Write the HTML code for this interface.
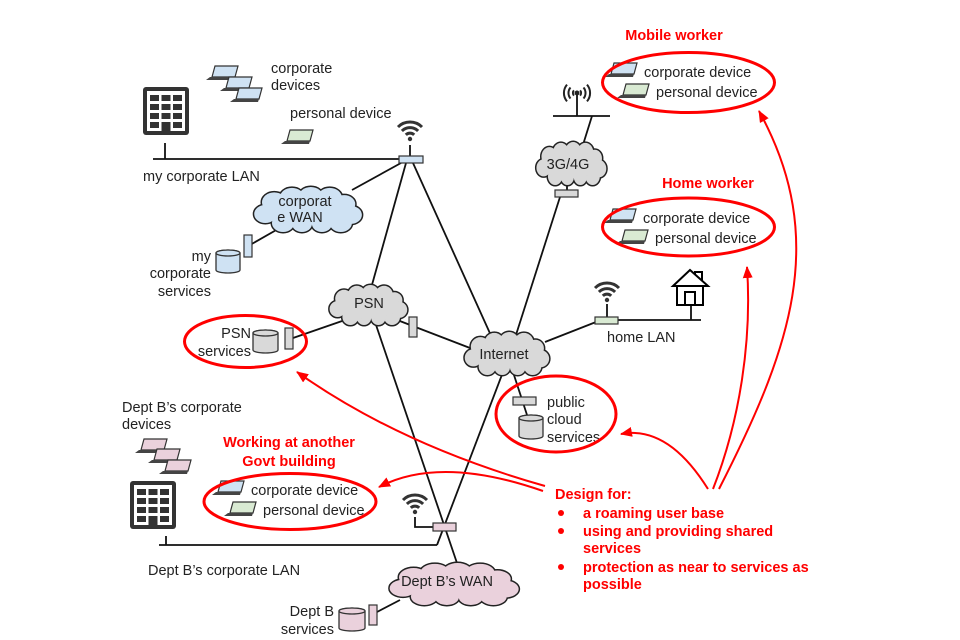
<!DOCTYPE html>
<html><head><meta charset="utf-8"><style>
html,body{margin:0;padding:0;background:#fff;}
svg{display:block;}
text{font-family:"Liberation Sans",Arial,sans-serif;font-size:14.5px;fill:#222;}
.r{fill:#ff0000;font-weight:bold;}
</style></head><body>
<svg width="960" height="640" viewBox="0 0 960 640" xmlns="http://www.w3.org/2000/svg">
<defs>
<g id="cb">
<circle cx="12" cy="30" r="10" vector-effect="non-scaling-stroke"/>
<circle cx="20" cy="17" r="11" vector-effect="non-scaling-stroke"/>
<circle cx="36" cy="12" r="11" vector-effect="non-scaling-stroke"/>
<circle cx="53" cy="11" r="11" vector-effect="non-scaling-stroke"/>
<circle cx="70" cy="12" r="11" vector-effect="non-scaling-stroke"/>
<circle cx="83" cy="19" r="10" vector-effect="non-scaling-stroke"/>
<circle cx="89" cy="31" r="10" vector-effect="non-scaling-stroke"/>
<circle cx="80" cy="40" r="10" vector-effect="non-scaling-stroke"/>
<circle cx="63" cy="41" r="9" vector-effect="non-scaling-stroke"/>
<circle cx="45" cy="41" r="9" vector-effect="non-scaling-stroke"/>
<circle cx="28" cy="40" r="10" vector-effect="non-scaling-stroke"/>
<ellipse cx="50" cy="26" rx="38" ry="16" vector-effect="non-scaling-stroke"/>
</g>
<g id="wifi" fill="none" stroke="#333" stroke-width="3">
<circle cx="0" cy="0" r="2.2" fill="#333" stroke="none"/>
<path d="M-4.2,-4.2 A6,6 0 0 1 4.2,-4.2"/>
<path d="M-8.1,-8.1 A11.5,11.5 0 0 1 8.1,-8.1"/>
<path d="M-12,-12 A17,17 0 0 1 12,-12"/>
</g>
<g id="lapB">
<polygon points="9,1 32,1 29,12 6,12" fill="#cfe2f3" stroke="#333" stroke-width="1.2"/>
<polygon points="4,12 29,12 28,15 0,15" fill="#444"/>
</g>
<g id="lapG">
<polygon points="9,1 32,1 29,12 6,12" fill="#d9ead3" stroke="#333" stroke-width="1.2"/>
<polygon points="4,12 29,12 28,15 0,15" fill="#444"/>
</g>
<g id="lapP">
<polygon points="9,1 32,1 29,12 6,12" fill="#ead1dc" stroke="#333" stroke-width="1.2"/>
<polygon points="4,12 29,12 28,15 0,15" fill="#444"/>
</g>
<g id="bldg">
<rect x="0" y="0" width="46" height="48" rx="3" fill="#333"/>
<rect x="4" y="4" width="38" height="40" fill="#fff"/>
<g fill="#333">
<rect x="7" y="8" width="9" height="6"/><rect x="18.5" y="8" width="9" height="6"/><rect x="30" y="8" width="9" height="6"/>
<rect x="7" y="17" width="9" height="6"/><rect x="18.5" y="17" width="9" height="6"/><rect x="30" y="17" width="9" height="6"/>
<rect x="7" y="26" width="9" height="6"/><rect x="18.5" y="26" width="9" height="6"/><rect x="30" y="26" width="9" height="6"/>
<rect x="7" y="35" width="9" height="6"/><rect x="18.5" y="35" width="9" height="13"/><rect x="30" y="35" width="9" height="6"/>
</g>
</g>
<marker id="ah" viewBox="0 0 12 10" refX="11" refY="5" markerWidth="12" markerHeight="10" markerUnits="userSpaceOnUse" orient="auto">
<path d="M0,0 L12,5 L0,10 z" fill="#ff0000"/>
</marker>
</defs>

<!-- connectors -->
<g stroke="#111" stroke-width="1.8" fill="none">
<path d="M153,159 H405"/>
<path d="M165,143 V159"/>
<path d="M410,145 V156"/>
<path d="M401,163 L352,190"/>
<path d="M406,163 L370,292"/>
<path d="M413,163 L493,340"/>
<path d="M278,229 L250,245"/>
<path d="M553,116 H610"/>
<path d="M577,93 V116"/>
<path d="M592,116 L582,148"/>
<path d="M567,182 V190"/>
<path d="M560,197 L515,338"/>
<path d="M345,320 L293,338"/>
<path d="M392,318 L470,348"/>
<path d="M545,342 L596,322"/>
<path d="M618,320 H701"/>
<path d="M691,305 V320"/>
<path d="M607,304 V317"/>
<path d="M513,372 L528,418"/>
<path d="M375,322 L458,566"/>
<path d="M503,372 L437,545"/>
<path d="M159,545 H437"/>
<path d="M166,536 V545"/>
<path d="M415,517 V527 H433"/>
<path d="M400,600 L377,612"/>
</g>

<!-- clouds -->
<g transform="translate(252,187) scale(1.11,0.9)"><use href="#cb" fill="none" stroke="#222" stroke-width="3"/><use href="#cb" fill="#cfe2f3"/></g>
<g transform="translate(328,285) scale(0.8,0.8)"><use href="#cb" fill="none" stroke="#222" stroke-width="3"/><use href="#cb" fill="#d9d9d9"/></g>
<g transform="translate(463,332) scale(0.87,0.86)"><use href="#cb" fill="none" stroke="#222" stroke-width="3"/><use href="#cb" fill="#d9d9d9"/></g>
<g transform="translate(535,142) scale(0.72,0.86)"><use href="#cb" fill="none" stroke="#222" stroke-width="3"/><use href="#cb" fill="#d9d9d9"/></g>
<g transform="translate(387,563) scale(1.33,0.84)"><use href="#cb" fill="none" stroke="#222" stroke-width="3"/><use href="#cb" fill="#ead1dc"/></g>

<text x="305" y="206" text-anchor="middle">corporat</text>
<text x="300" y="222" text-anchor="middle">e WAN</text>
<text x="369" y="308" text-anchor="middle">PSN</text>
<text x="504" y="359" text-anchor="middle">Internet</text>
<text x="568" y="169" text-anchor="middle">3G/4G</text>
<text x="447" y="586" text-anchor="middle">Dept B’s WAN</text>

<!-- boxes -->
<g stroke="#333" stroke-width="1.2">
<rect x="399" y="156" width="24" height="7" fill="#cfe2f3"/>
<rect x="555" y="190" width="23" height="7" fill="#d9d9d9"/>
<rect x="595" y="317" width="23" height="7" fill="#d9ead3"/>
<rect x="513" y="397" width="23" height="8" fill="#d9d9d9"/>
<rect x="409" y="317" width="8" height="20" fill="#d9d9d9"/>
<rect x="285" y="328" width="8" height="21" fill="#d9d9d9"/>
<rect x="244" y="235" width="8" height="22" fill="#cfe2f3"/>
<rect x="433" y="523" width="23" height="8" fill="#ead1dc"/>
<rect x="369" y="605" width="8" height="20" fill="#ead1dc"/>
</g>

<!-- cylinders -->
<g stroke="#333" stroke-width="1.3">
<path d="M216,253 v17 a12,3 0 0 0 24,0 v-17 a12,3 0 0 0 -24,0 z" fill="#cfe2f3"/>
<ellipse cx="228" cy="253" rx="12" ry="3" fill="#cfe2f3"/>
<path d="M253,333 v17 a12.5,3 0 0 0 25,0 v-17 a12.5,3 0 0 0 -25,0 z" fill="#d9d9d9"/>
<ellipse cx="265.5" cy="333" rx="12.5" ry="3" fill="#d9d9d9"/>
<path d="M519,418 v18 a12,3 0 0 0 24,0 v-18 a12,3 0 0 0 -24,0 z" fill="#d9d9d9"/>
<ellipse cx="531" cy="418" rx="12" ry="3" fill="#d9d9d9"/>
<path d="M339,611 v17 a13,3 0 0 0 26,0 v-17 a13,3 0 0 0 -26,0 z" fill="#ead1dc"/>
<ellipse cx="352" cy="611" rx="13" ry="3" fill="#ead1dc"/>
</g>

<!-- wifi / antenna -->
<use href="#wifi" x="410" y="139"/>
<use href="#wifi" x="607" y="300"/>
<use href="#wifi" x="415" y="512"/>
<g fill="none" stroke="#222" stroke-width="2">
<circle cx="577" cy="93" r="1.5" fill="#222"/>
<path d="M580.1,90.4 A4,4 0 0 1 580.1,95.6"/>
<path d="M573.9,90.4 A4,4 0 0 0 573.9,95.6"/>
<path d="M583.5,87.5 A8.5,8.5 0 0 1 583.5,98.5"/>
<path d="M570.5,87.5 A8.5,8.5 0 0 0 570.5,98.5"/>
<path d="M587,84.6 A13,13 0 0 1 587,101.4"/>
<path d="M567,84.6 A13,13 0 0 0 567,101.4"/>
</g>

<!-- house -->
<g fill="#fff" stroke="#000" stroke-width="2">
<path d="M695,278 V272 H702 V283"/>
<path d="M673,286 L690,270 L708,286 Z"/>
<rect x="677" y="286" width="26" height="19"/>
<rect x="685" y="292" width="10" height="13"/>
</g>

<!-- buildings -->
<use href="#bldg" x="143" y="87"/>
<use href="#bldg" x="130" y="481"/>

<!-- laptops -->
<use href="#lapB" x="206" y="65"/>
<use href="#lapB" x="220" y="76"/>
<use href="#lapB" x="230" y="87"/>
<use href="#lapG" x="281" y="129"/>
<use href="#lapP" x="135" y="438"/>
<use href="#lapP" x="148" y="448"/>
<use href="#lapP" x="159" y="459"/>
<use href="#lapB" x="605" y="62"/>
<use href="#lapG" x="617" y="83"/>
<use href="#lapB" x="604" y="208"/>
<use href="#lapG" x="616" y="229"/>
<use href="#lapB" x="212" y="480"/>
<use href="#lapG" x="224" y="501"/>

<!-- black labels -->
<text x="271" y="73">corporate</text>
<text x="271" y="90">devices</text>
<text x="290" y="118">personal device</text>
<text x="143" y="181">my corporate LAN</text>
<text x="211" y="261" text-anchor="end">my</text>
<text x="211" y="278" text-anchor="end">corporate</text>
<text x="211" y="296" text-anchor="end">services</text>
<text x="251" y="338" text-anchor="end">PSN</text>
<text x="251" y="356" text-anchor="end">services</text>
<text x="607" y="342">home LAN</text>
<text x="547" y="407">public</text>
<text x="547" y="424">cloud</text>
<text x="547" y="442">services</text>
<text x="122" y="412">Dept B’s corporate</text>
<text x="122" y="429">devices</text>
<text x="148" y="575">Dept B’s corporate LAN</text>
<text x="334" y="616" text-anchor="end">Dept B</text>
<text x="334" y="634" text-anchor="end">services</text>
<text x="644" y="77">corporate device</text>
<text x="656" y="97">personal device</text>
<text x="643" y="223">corporate device</text>
<text x="655" y="243">personal device</text>
<text x="251" y="495">corporate device</text>
<text x="263" y="515">personal device</text>

<!-- red ellipses -->
<g fill="none" stroke="#ff0000" stroke-width="3">
<ellipse cx="688.5" cy="82.5" rx="86" ry="30"/>
<ellipse cx="688.5" cy="227" rx="86" ry="29"/>
<ellipse cx="290" cy="501.5" rx="86" ry="28"/>
<ellipse cx="245.5" cy="341.5" rx="61" ry="26"/>
<ellipse cx="556" cy="414" rx="60" ry="38"/>
</g>

<!-- red arrows -->
<g fill="none" stroke="#ff0000" stroke-width="2" marker-end="url(#ah)">
<path d="M545,486 Q400,445 297,372"/>
<path d="M543,491 Q440,455 379,487"/>
<path d="M708,489 Q668,425 621,434"/>
<path d="M713,489 C740,420 752,340 747,267"/>
<path d="M719,489 C790,350 830,240 759,111"/>
</g>

<!-- red titles -->
<text class="r" x="674" y="40" text-anchor="middle">Mobile worker</text>
<text class="r" x="708" y="188" text-anchor="middle">Home worker</text>
<text class="r" x="289" y="447" text-anchor="middle">Working at another</text>
<text class="r" x="289" y="466" text-anchor="middle">Govt building</text>
<text class="r" x="555" y="499">Design for:</text>
<g fill="#ff0000">
<circle cx="561" cy="513" r="3"/>
<circle cx="561" cy="531" r="3"/>
<circle cx="561" cy="567" r="3"/>
</g>
<text class="r" x="583" y="518">a roaming user base</text>
<text class="r" x="583" y="536">using and providing shared</text>
<text class="r" x="583" y="553">services</text>
<text class="r" x="583" y="572">protection as near to services as</text>
<text class="r" x="583" y="589">possible</text>
</svg>
</body></html>
